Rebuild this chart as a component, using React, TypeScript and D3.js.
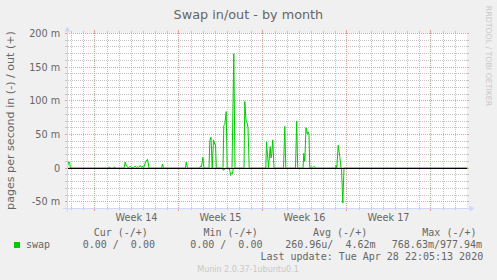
import React, { useEffect } from "react";
import * as d3 from "d3";

// ---- data (hours since start of window, values in milli pages/s) ----
const outHours = [0, 2, 4, 6, 82, 83.4, 85, 93, 94, 96, 113, 115.4, 118, 120, 122, 125.4, 128, 132, 135.4, 138, 140, 142, 145.4, 148, 150, 152, 156.6, 160, 163, 188, 190, 192, 236, 237.4, 240, 264, 266, 268, 270.6, 273, 283, 284.6, 287, 289.4, 292, 294.6, 296, 297.6, 311, 312.6, 314.6, 317.4, 319.4, 329, 332.6, 335, 353, 354.6, 357, 359.4, 361, 363.4, 396.6, 398, 400, 402, 405.4, 407, 408.6, 410.6, 413, 432, 434.6, 436.6, 456, 458.4, 460.4, 471, 472.6, 474.6, 477, 479.4, 481.4, 483, 484.6, 488, 490, 492, 494.6, 496, 536, 537, 538.6, 541.4, 544.6, 547, 800];
const outValues = [2, 9, 9, 0, 0, 2, 0, 0, 2, 0, 0, 9, 3, 2, 0, 3, 1, 1, 3, 1, 2, 1, 4, 1, 3, 0, 10, 13, 0, 0, 6, 0, 0, 9, 0, 0, 3, 2, 16, 0, 0, 41, 46, 0, 42, 35, 35, 0, 0, 63, 65, 84, 0, 0, 170, 0, 0, 99, 71, 67, 60, 0, 0, 39, 20, 0, 32, 15, 22, 42, 0, 0, 62, 0, 0, 70, 0, 0, 22, 10, 60, 51, 54, 49, 0, 2, 1, 2, 2, 0, 0, 4, 0, 34, 17, 0, 0];
const inHours = [0, 308, 310, 313, 315, 323, 325, 326, 328, 330, 331.6, 548, 550.6, 553, 800];
const inValues = [0, 0, 2, 3, 0, 0, 5, 11, 7, 8, 0, 0, 52, 0, 0];

const yMajorTicks = [-50, 0, 50, 100, 150, 200];
const yTickLabels = ["-50 m", "0", "50 m", "100 m", "150 m", "200 m"];
const weekStartHours = [54, 222, 390, 558, 726];
const weekLabels = ["Week 14", "Week 15", "Week 16", "Week 17"];
const legendHeaders = ["Cur (-/+)", "Min (-/+)", "Avg (-/+)", "Max (-/+)"];
const legendValues = ["0.00 /  0.00", "0.00 /  0.00", "260.96u/  4.62m", "768.63m/977.94m"];
const seriesName = "swap";
const titleText = "Swap in/out - by month";
const unitText = "pages per second in (-) / out (+)";
const lastUpdate = "Last update: Tue Apr 28 22:05:13 2020";
const versionText = "Munin 2.0.37-1ubuntu0.1";
const watermarkText = "RRDTOOL / TOBI OETIKER";

const W = 497;
const H = 280;
const X0 = 67;
const X1 = 467;
const YB = 208;
const YT = 33;

const FONT = "#666666";
const GREEN = "#00cc00";
const AXIS = "#cfd6f8";
const GRID = "#c4c4c4";
const MGRID = "#ee9a9a";
const sans = "'DejaVu Sans', sans-serif";
const mono = "'DejaVu Sans Mono', monospace";

export default function App() {
  useEffect(() => {
    document.body.style.margin = "0";
  }, []);

  const xs = d3.scaleLinear().domain([0, 800]).range([X0, X1]);
  const ys = d3.scaleLinear().domain([-60, 200]).range([YB, YT]);
  const ysData = d3.scaleLinear().domain([-60, 200]).range([YB + 0.5, YT + 0.5]);
  const c = (v: number) => Math.round(v) + 0.5;

  const yMinor = d3.range(-50, 200, 10).filter((v) => v % 50 !== 0);
  const xMinor = d3
    .range(8, 800, 24)
    .filter((h) => !weekStartHours.some((w) => Math.abs(w - h) < 4));

  const line = d3
    .line<[number, number]>()
    .x((d) => xs(d[0]) + 0.5)
    .y((d) => ysData(d[1]));
  const outPath = line(outHours.map((h, i) => [h, outValues[i]] as [number, number])) || "";
  const inPath = line(inHours.map((h, i) => [h, -inValues[i]] as [number, number])) || "";

  const legendHeaderX = [93.7, 203.5, 313, 422.3];
  const legendValueX = [82.7, 190.2, 285.2, 391.8];

  return (
    <svg
      width={W}
      height={H}
      style={{ position: "absolute", left: 0, top: 0, display: "block" }}
      xmlns="http://www.w3.org/2000/svg"
    >
      <rect x={0} y={0} width={W} height={H} fill="#f0f0f0" />
      <rect x={X0} y={YT} width={X1 - X0} height={YB - YT} fill="#ffffff" />

      {/* minor horizontal grid */}
      {yMinor.map((v) => {
        const y = c(ys(v));
        return (
          <g key={"hm" + v}>
            <line x1={X0 - 2} x2={X0} y1={y} y2={y} stroke={GRID} strokeWidth={1} />
            <line x1={X1} x2={X1 + 2} y1={y} y2={y} stroke={GRID} strokeWidth={1} />
            <line x1={X0 - 1} x2={X1 + 1} y1={y} y2={y} stroke={GRID} strokeWidth={1} strokeDasharray="1,1" />
          </g>
        );
      })}
      {/* minor vertical grid */}
      {xMinor.map((h) => {
        const x = c(xs(h));
        return (
          <g key={"vm" + h}>
            <line x1={x} x2={x} y1={YB} y2={YB + 2} stroke={GRID} strokeWidth={1} />
            <line x1={x} x2={x} y1={YT - 2} y2={YT} stroke={GRID} strokeWidth={1} />
            <line x1={x} x2={x} y1={YT} y2={YB} stroke={GRID} strokeWidth={1} strokeDasharray="1,1" />
          </g>
        );
      })}
      {/* major horizontal grid */}
      {yMajorTicks.map((v) => {
        const y = c(ys(v));
        return (
          <g key={"hM" + v}>
            <line x1={X0 - 2} x2={X0} y1={y} y2={y} stroke={MGRID} strokeWidth={1} />
            <line x1={X1} x2={X1 + 2} y1={y} y2={y} stroke={MGRID} strokeWidth={1} />
            <line x1={X0 - 2} x2={X1 + 2} y1={y} y2={y} stroke={MGRID} strokeWidth={1} strokeDasharray="1,1" />
          </g>
        );
      })}
      {/* major vertical grid */}
      {weekStartHours.map((h) => {
        const x = c(xs(h));
        return (
          <g key={"vM" + h}>
            <line x1={x} x2={x} y1={YB} y2={YB + 3} stroke={MGRID} strokeWidth={1} />
            <line x1={x} x2={x} y1={YT - 3} y2={YT} stroke={MGRID} strokeWidth={1} />
            <line x1={x} x2={x} y1={YT} y2={YB} stroke={MGRID} strokeWidth={1} strokeDasharray="1,1" />
          </g>
        );
      })}

      {/* data */}
      <path d={inPath} fill="none" stroke={GREEN} strokeWidth={1} />
      <path d={outPath} fill="none" stroke={GREEN} strokeWidth={1} />
      <line x1={X0} x2={X1} y1={c(ys(0))} y2={c(ys(0))} stroke="#000000" strokeWidth={1} />

      {/* axes */}
      <line x1={X0 - 4} x2={X1 + 4} y1={YB + 0.5} y2={YB + 0.5} stroke={AXIS} strokeWidth={1} />
      <line x1={X0 + 0.5} x2={X0 + 0.5} y1={YB + 4} y2={YT - 4} stroke={AXIS} strokeWidth={1} />
      <polygon
        points={`${X1 + 2.5},${YB - 2.5} ${X1 + 2.5},${YB + 3.5} ${X1 + 7.5},${YB + 0.5}`}
        fill={AXIS}
      />
      <polygon
        points={`${X0 - 2.5},${YT - 1.5} ${X0 + 3.5},${YT - 1.5} ${X0 + 0.5},${YT - 6.5}`}
        fill={AXIS}
      />

      {/* y tick labels */}
      {yMajorTicks.map((v, i) => (
        <text
          key={"yl" + v}
          x={60.2}
          y={c(ys(v)) + 3.2}
          textAnchor="end"
          fontFamily={sans}
          fontSize={9.7}
          fill={FONT}
        >
          {yTickLabels[i]}
        </text>
      ))}

      {/* week labels */}
      {weekLabels.map((lab, i) => (
        <text
          key={lab}
          x={xs((weekStartHours[i] + weekStartHours[i + 1]) / 2) + 0.5}
          y={221}
          textAnchor="middle"
          fontFamily={sans}
          fontSize={9.7}
          fill={FONT}
        >
          {lab}
        </text>
      ))}

      {/* title */}
      <text x={248.4} y={19} textAnchor="middle" fontFamily={sans} fontSize={12.8} fill={FONT}>
        {titleText}
      </text>

      {/* unit label */}
      <text
        transform={`translate(13.6,${(YT + YB) / 2}) rotate(-90)`}
        textAnchor="middle"
        fontFamily={sans}
        fontSize={11.1}
        fill={FONT}
      >
        {unitText}
      </text>

      {/* watermark */}
      <text
        transform={`translate(485.5,56) rotate(90)`}
        textAnchor="middle"
        fontFamily={sans}
        fontSize={7.8}
        fill="#c8c8c8"
      >
        {watermarkText}
      </text>

      {/* legend */}
      {legendHeaders.map((t, i) => (
        <text
          key={"lh" + i}
          x={legendHeaderX[i]}
          y={236}
          fontFamily={mono}
          fontSize={10}
          fill={FONT}
          style={{ whiteSpace: "pre" }}
        >
          {t}
        </text>
      ))}
      <rect x={14} y={242} width={6} height={6} fill={GREEN} />
      <text x={26} y={247.5} fontFamily={mono} fontSize={10} fill={FONT}>
        {seriesName}
      </text>
      {legendValues.map((t, i) => (
        <text
          key={"lv" + i}
          x={legendValueX[i]}
          y={247.5}
          fontFamily={mono}
          fontSize={10}
          fill={FONT}
          style={{ whiteSpace: "pre" }}
        >
          {t}
        </text>
      ))}
      <text x={483.2} y={260} textAnchor="end" fontFamily={mono} fontSize={10} fill={FONT} style={{ whiteSpace: "pre" }}>
        {lastUpdate}
      </text>
      <text x={248} y={272} textAnchor="middle" fontFamily={sans} fontSize={8} fill="#c8c8c8">
        {versionText}
      </text>
    </svg>
  );
}
